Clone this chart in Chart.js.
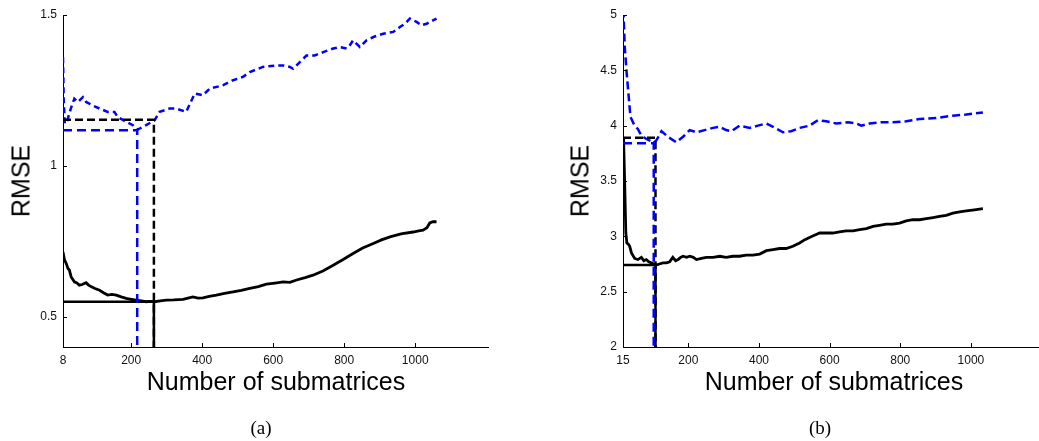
<!DOCTYPE html>
<html lang="en">
<head>
    <meta charset="UTF-8">
    <title>RMSE vs number of submatrices</title>
    <script src="https://cdn.jsdelivr.net/npm/chart.js"></script>
    <style>
        body {
            margin: 0;
            background: #fff;
            font-family: 'Liberation Sans', Arial, sans-serif;
        }

        .page {
            position: relative;
            width: 1039px;
            height: 441px;
            overflow: hidden;
        }

        .panel {
            position: absolute;
            top: 0;
        }

        /* axis titles and captions are plain html text */
        .ytitle, .xtitle, .cap {
            position: absolute;
            line-height: 1;
            white-space: nowrap;
            color: #000;
        }

        .ytitle {
            font-size: 25px;
            transform: translate(-50%, -50%) rotate(-90deg);
        }

        .xtitle {
            font-size: 25px;
            transform: translate(-50%, -50%);
        }

        .cap {
            font-family: 'Liberation Serif', 'Times New Roman', serif;
            font-size: 19px;
            transform: translate(-50%, -50%);
        }
    </style>
</head>

<body>
<div class="page">
    <canvas id="chartA" class="panel" style="left:0" width="519" height="441"></canvas>
    <canvas id="chartB" class="panel" style="left:519px" width="520" height="441"></canvas>

    <div class="ytitle" style="left:21px; top:181px">RMSE</div>
    <div class="xtitle" style="left:276px; top:381px">Number of submatrices</div>
    <div class="cap" style="left:261px; top:427px">(a)</div>

    <div class="ytitle" style="left:580px; top:181px">RMSE</div>
    <div class="xtitle" style="left:834px; top:381px">Number of submatrices</div>
    <div class="cap" style="left:820px; top:427px">(b)</div>
</div>

<script>
    // ---- panel (a) ----
    const aXTicks = [8, 200, 400, 600, 800, 1000];
    const aYTicks = [0.5, 1, 1.5];

    const aBlackX = [8, 12, 17, 22, 26, 31, 40, 47, 54, 62, 73, 80, 87, 98, 111, 122, 134, 146, 158, 172,
        186, 200, 214, 228, 242, 255, 266, 282, 299, 320, 346, 360, 374, 388, 402, 420, 440, 463, 487, 510,
        534, 558, 581, 605, 628, 647, 666, 690, 712, 740, 769, 797, 825, 852, 882, 905, 929, 960, 994, 1010,
        1022, 1033, 1041, 1050, 1060];
    const aBlackY = [0.715, 0.69, 0.677, 0.66, 0.655, 0.632, 0.616, 0.612, 0.605, 0.607, 0.613, 0.605, 0.6, 0.594, 0.588, 0.58, 0.572, 0.574, 0.572, 0.566,
        0.561, 0.558, 0.555, 0.553, 0.55, 0.551, 0.55, 0.553, 0.555, 0.556, 0.558, 0.562, 0.566, 0.562, 0.563, 0.568, 0.572, 0.578, 0.583, 0.588,
        0.594, 0.6, 0.608, 0.612, 0.616, 0.614, 0.622, 0.63, 0.638, 0.652, 0.671, 0.69, 0.71, 0.728, 0.743, 0.755, 0.765, 0.775, 0.781, 0.785,
        0.787, 0.795, 0.811, 0.815, 0.815];

    const aBlueX = [8, 10, 13, 20, 30, 40, 50, 64, 73, 92, 111, 134, 153, 162, 186, 205, 218, 224, 242, 266,
        280, 308, 327, 355, 379, 402, 421, 458, 487, 515, 534, 571, 609, 628, 647, 656, 675, 694, 717, 741,
        769, 788, 807, 816, 825, 844, 863, 882, 910, 938, 957, 971, 985, 1004, 1017, 1032, 1050, 1060];
    const aBlueY = [1.36, 1.22, 1.14, 1.15, 1.19, 1.223, 1.212, 1.228, 1.212, 1.2, 1.19, 1.179, 1.179, 1.162, 1.146, 1.135, 1.12, 1.124, 1.135, 1.151,
        1.179, 1.19, 1.19, 1.179, 1.24, 1.234, 1.256, 1.267, 1.284, 1.295, 1.311, 1.328, 1.333, 1.333, 1.328, 1.322, 1.344, 1.366, 1.366, 1.377,
        1.389, 1.394, 1.389, 1.40, 1.416, 1.394, 1.416, 1.427, 1.438, 1.444, 1.46, 1.471, 1.488, 1.477, 1.466, 1.471, 1.482, 1.488];

    // best-value markers (horizontal then vertical drop to the axis)
    const aMarkBlackDashX = [8, 264, 264];
    const aMarkBlackDashY = [1.153, 1.153, 0.4];
    const aMarkBlueDashX = [8, 217, 217];
    const aMarkBlueDashY = [1.118, 1.118, 0.4];
    const aMarkSolidX = [8, 264, 264];
    const aMarkSolidY = [0.55, 0.55, 0.4];

    // ---- panel (b) ----
    const bXTicks = [15, 200, 400, 600, 800, 1000];
    const bYTicks = [2, 2.5, 3, 3.5, 4, 4.5, 5];

    const bBlackX = [15, 17, 20, 23, 26, 30, 34, 39, 48, 57, 67, 74, 81, 88, 95, 102, 109, 118, 128, 138,
        147, 156, 164, 171, 178, 185, 195, 204, 214, 223, 237, 251, 270, 289, 307, 326, 345, 364, 383, 402,
        421, 440, 458, 477, 496, 515, 530, 543, 557, 572, 590, 609, 628, 647, 666, 685, 704, 723, 741, 760,
        779, 798, 817, 836, 855, 874, 893, 911, 930, 949, 968, 987, 1010, 1034];
    const bBlackY = [3.88, 3.84, 3.45, 3.03, 2.94, 2.93, 2.91, 2.85, 2.80, 2.79, 2.81, 2.78, 2.79, 2.77, 2.76, 2.75, 2.74, 2.75, 2.76, 2.76,
        2.77, 2.81, 2.78, 2.79, 2.81, 2.82, 2.81, 2.82, 2.81, 2.79, 2.80, 2.81, 2.81, 2.82, 2.81, 2.82, 2.82, 2.83, 2.83, 2.84,
        2.87, 2.88, 2.89, 2.89, 2.91, 2.94, 2.97, 2.99, 3.01, 3.03, 3.03, 3.03, 3.04, 3.05, 3.05, 3.06, 3.07, 3.09, 3.10, 3.11,
        3.11, 3.12, 3.14, 3.15, 3.15, 3.16, 3.17, 3.18, 3.19, 3.21, 3.22, 3.23, 3.24, 3.25];

    const bBlueX = [16, 20, 25, 32, 36, 48, 57, 67, 81, 95, 102, 110, 124, 142, 166, 185, 204, 223, 246, 270,
        289, 307, 322, 345, 374, 397, 421, 440, 468, 491, 515, 543, 567, 590, 619, 652, 675, 690, 713, 741,
        779, 817, 855, 902, 949, 987, 1034];
    const bBlueY = [5.05, 4.71, 4.49, 4.23, 4.08, 4.0, 3.97, 3.91, 3.88, 3.86, 3.845, 3.87, 3.95, 3.90, 3.85, 3.90, 3.96, 3.94, 3.96, 3.98,
        3.99, 3.96, 3.95, 4.0, 3.98, 4.0, 4.02, 3.99, 3.94, 3.95, 3.98, 4.0, 4.05, 4.04, 4.02, 4.03, 4.02, 4.0, 4.02, 4.03,
        4.03, 4.04, 4.06, 4.07, 4.09, 4.10, 4.12];

    const bMarkBlackDashX = [15, 107, 107];
    const bMarkBlackDashY = [3.89, 3.89, 2];
    const bMarkBlueDashX = [15, 102, 102];
    const bMarkBlueDashY = [3.84, 3.84, 2];
    const bMarkSolidX = [15, 107, 107];
    const bMarkSolidY = [2.74, 2.74, 2];

    const BLUE = '#0000ff';
    const BLACK = '#000000';

    function pts(xs, ys) {
        return xs.map((x, i) => ({ x: x, y: ys[i] }));
    }

    function line(xs, ys, color, dash, width) {
        return {
            data: pts(xs, ys),
            borderColor: color,
            borderWidth: width || 2.5,
            borderDash: dash || [],
            pointRadius: 0,
            tension: 0,
            fill: false
        };
    }

    // matlab style ticks pointing into the plot area
    const innerTicks = {
        id: 'innerTicks',
        afterDraw(chart) {
            const { ctx, chartArea, scales } = chart;
            ctx.save();
            ctx.strokeStyle = '#000';
            ctx.lineWidth = 1;
            scales.x.ticks.forEach(t => {
                const px = Math.round(scales.x.getPixelForValue(t.value)) + 0.5;
                ctx.beginPath();
                ctx.moveTo(px, chartArea.bottom);
                ctx.lineTo(px, chartArea.bottom - 4);
                ctx.stroke();
            });
            scales.y.ticks.forEach(t => {
                const py = Math.round(scales.y.getPixelForValue(t.value)) + 0.5;
                ctx.beginPath();
                ctx.moveTo(chartArea.left, py);
                ctx.lineTo(chartArea.left + 4, py);
                ctx.stroke();
            });
            ctx.restore();
        }
    };

    function makeChart(id, datasets, cfg) {
        const tickFont = { family: "'Liberation Sans', Arial, sans-serif", size: 12 };
        return new Chart(document.getElementById(id), {
            type: 'line',
            data: { datasets: datasets },
            plugins: [innerTicks],
            options: {
                responsive: false,
                animation: false,
                layout: { padding: { left: 0, top: 15, right: cfg.padRight, bottom: 0 } },
                plugins: { legend: { display: false }, tooltip: { enabled: false } },
                scales: {
                    x: {
                        type: 'linear',
                        min: cfg.xMin,
                        max: cfg.xMax,
                        grid: { display: false, drawTicks: false },
                        border: { display: true, color: '#000', width: 1 },
                        ticks: { color: '#111', font: tickFont, padding: 6, maxRotation: 0, autoSkip: false,
                            callback: v => String(v) },
                        afterBuildTicks: s => { s.ticks = cfg.xTicks.map(v => ({ value: v })); },
                        afterFit: s => { s.height = 94; }
                    },
                    y: {
                        type: 'linear',
                        min: cfg.yMin,
                        max: cfg.yMax,
                        grid: { display: false, drawTicks: false },
                        border: { display: true, color: '#000', width: 1 },
                        ticks: { color: '#111', font: tickFont, padding: 6, autoSkip: false,
                            callback: v => String(v) },
                        afterBuildTicks: s => { s.ticks = cfg.yTicks.map(v => ({ value: v })); },
                        afterFit: s => { s.width = cfg.yWidth; }
                    }
                }
            }
        });
    }

    // first dataset ends up on top
    makeChart('chartA', [
        line(aMarkBlueDashX, aMarkBlueDashY, BLUE, [9, 5]),
        line(aMarkBlackDashX, aMarkBlackDashY, BLACK, [8, 4]),
        line(aMarkSolidX, aMarkSolidY, BLACK),
        line(aBlueX, aBlueY, BLUE, [6, 4]),
        line(aBlackX, aBlackY, BLACK, [], 2.8)
    ], { xMin: 8, xMax: 1205, yMin: 0.4, yMax: 1.5, xTicks: aXTicks, yTicks: aYTicks, yWidth: 63, padRight: 31 });

    makeChart('chartB', [
        line(bMarkBlueDashX, bMarkBlueDashY, BLUE, [9, 5]),
        line(bMarkBlackDashX, bMarkBlackDashY, BLACK, [8, 4]),
        line(bMarkSolidX, bMarkSolidY, BLACK),
        line(bBlueX, bBlueY, BLUE, [8, 4]),
        line(bBlackX, bBlackY, BLACK, [], 2.8)
    ], { xMin: 15, xMax: 1190, yMin: 2, yMax: 5, xTicks: bXTicks, yTicks: bYTicks, yWidth: 104, padRight: 1 });
</script>
</body>

</html>
